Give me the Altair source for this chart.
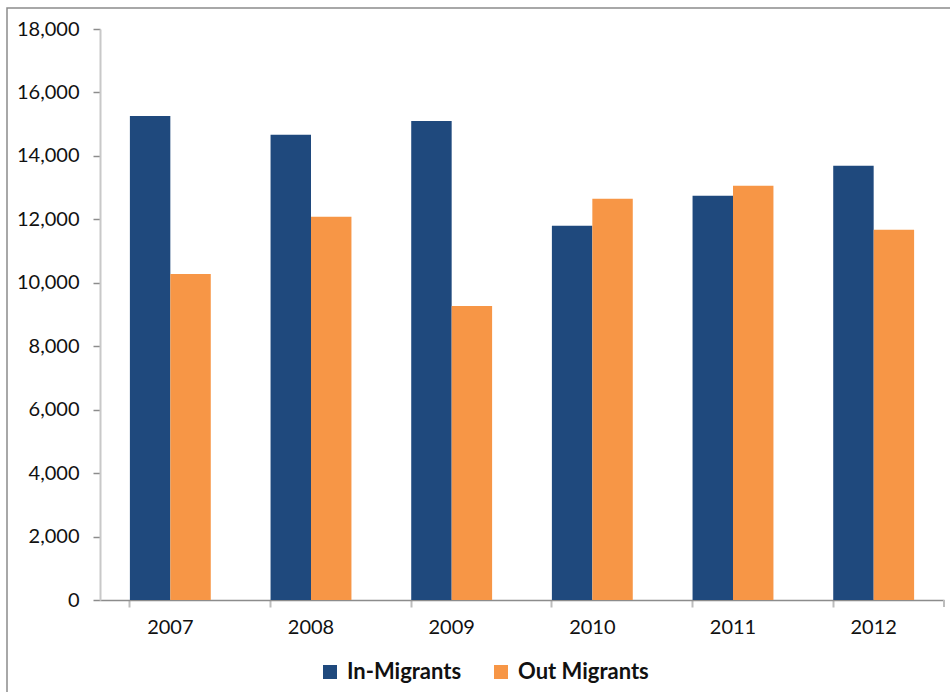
import altair as alt
import pandas as pd

# Annual migration counts
years = ["2007", "2008", "2009", "2010", "2011", "2012"]
in_migrants = [15260, 14670, 15100, 11800, 12740, 13690]
out_migrants = [10280, 12080, 9270, 12650, 13060, 11670]
series_names = ["In-Migrants", "Out Migrants"]
series_colors = ["#1F497D", "#F79646"]
y_ticks = list(range(0, 18001, 2000))

rows = []
for yr, a, b in zip(years, in_migrants, out_migrants):
    rows.append({"Year": yr, "Series": series_names[0], "Value": a})
    rows.append({"Year": yr, "Series": series_names[1], "Value": b})
df = pd.DataFrame(rows)

FONT = "Lato"
W, H = 844, 571

bars = alt.Chart(df).mark_bar().encode(
    x=alt.X(
        "Year:N",
        sort=years,
        title=None,
        scale=alt.Scale(paddingInner=0.425, paddingOuter=0.2125),
        axis=alt.Axis(
            labelAngle=0,
            labelFont=FONT,
            labelFontSize=20,
            labelColor="#111111",
            labelPadding=10,
            domainColor="#8c8c8c",
            domainWidth=1.5,
            tickColor="#bdbdbd",
            tickWidth=2,
            tickSize=7,
            bandPosition=0,
        ),
    ),
    xOffset=alt.XOffset(
        "Series:N",
        sort=series_names,
        scale=alt.Scale(paddingInner=0, paddingOuter=0),
    ),
    y=alt.Y(
        "Value:Q",
        title=None,
        scale=alt.Scale(domain=[0, 18000], nice=False),
        axis=alt.Axis(
            values=y_ticks,
            format=",d",
            grid=False,
            labelFont=FONT,
            labelFontSize=20,
            labelColor="#111111",
            labelPadding=14,
            domainColor="#c8c8c8",
            domainWidth=2,
            tickColor="#8c8c8c",
            tickWidth=1.5,
            tickSize=7,
        ),
    ),
    color=alt.Color(
        "Series:N",
        sort=series_names,
        scale=alt.Scale(domain=series_names, range=series_colors),
        legend=alt.Legend(
            title=None,
            orient="none",
            legendX=219,
            legendY=632,
            direction="horizontal",
            symbolType="square",
            symbolSize=196,
            symbolStrokeWidth=0,
            labelFont=FONT,
            labelFontSize=22,
            labelFontWeight="bold",
            labelColor="#111111",
            labelOffset=6,
            columnPadding=28,
        ),
    ),
)

# closing tick at the right end of the category axis
end_tick = alt.Chart(pd.DataFrame({"k": [0]})).mark_rule(
    color="#bdbdbd", strokeWidth=2
).encode(x=alt.value(W), y=alt.value(H), y2=alt.value(H + 7))

# outer border around the chart
frame = alt.Chart(pd.DataFrame({"k": [0]})).mark_rect(
    fill="transparent", stroke="#8c8c8c", strokeWidth=1.5
).encode(
    x=alt.value(-93), x2=alt.value(W + 60),
    y=alt.value(-21), y2=alt.value(H + 150),
)

chart = alt.layer(frame, bars, end_tick).properties(
    width=W,
    height=H,
    autosize=alt.AutoSizeParams(type="none"),
    padding={"left": 100, "top": 29, "right": 6, "bottom": 92},
    background="white",
).configure_view(stroke=None)

chart.save("out.html", embed_options={"renderer": "svg", "actions": False})
